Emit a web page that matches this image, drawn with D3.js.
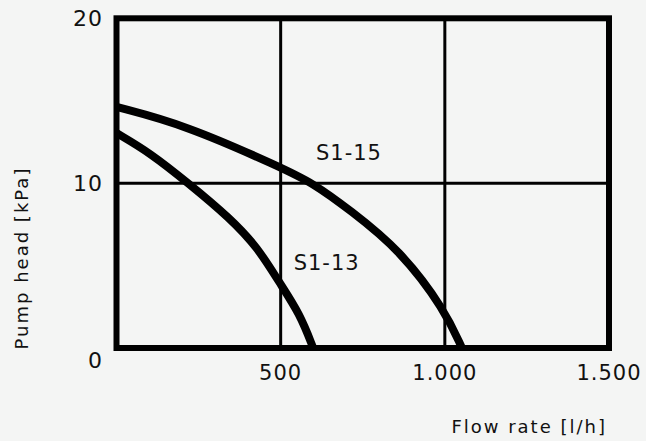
<!DOCTYPE html>
<html>
  <head>
    <meta charset="utf-8" />
    <script src="https://cdn.jsdelivr.net/npm/d3@7"></script>
    <style>
      body { margin: 0; background: #f4f5f4; }
      text { font-family: "DejaVu Sans", sans-serif; fill: #111; }
      .frame { stroke: #000; stroke-width: 6; fill: none; }
      .grid { stroke: #000; stroke-width: 3; }
      .curve { stroke: #000; stroke-width: 8; fill: none; }
    </style>
  </head>
  <body>
    <svg width="646" height="441"></svg>

    <script type="text/javascript">

    // values
    var xTicks = [500, 1000, 1500];
    var xTickLabels = ["500", "1.000", "1.500"];
    var yTicks = [0, 10, 20];
    var yTickLabels = ["0", "10", "20"];

    var s115Flow = [0, 209, 498, 598, 711, 864, 1000, 1052];
    var s115Head = [14.62, 13.53, 10.98, 10.01, 8.37, 5.94, 2.31, 0];

    var s113Flow = [0, 103, 218, 346, 431, 495, 559, 599];
    var s113Head = [13.04, 11.83, 10.01, 7.88, 6.07, 4.0, 2.06, 0];

    var seriesNames = ["S1-15", "S1-13"];
    var labelFlow = [708, 640];
    var labelHead = [11.86, 5.2];

    var svg = d3.select("svg");
    svg.append("rect").attr("width", 646).attr("height", 441).attr("fill", "#f4f5f4");

    var x = d3.scaleLinear().domain([0, 1500]).range([116.5, 609]);
    var y = d3.scaleLinear().domain([0, 20]).range([348, 18.3]);

    // grid lines
    svg.selectAll(".gx").data(xTicks.slice(0, 2)).enter().append("line")
      .attr("class", "grid")
      .attr("x1", function(d) { return x(d); }).attr("x2", function(d) { return x(d); })
      .attr("y1", y(0)).attr("y2", y(20));
    svg.append("line").attr("class", "grid")
      .attr("x1", x(0)).attr("x2", x(1500))
      .attr("y1", y(10)).attr("y2", y(10));

    // curves
    var line = d3.line()
      .x(function(d) { return x(d[0]); })
      .y(function(d) { return y(d[1]); })
      .curve(d3.curveBasis);

    var curves = [d3.zip(s115Flow, s115Head), d3.zip(s113Flow, s113Head)];
    svg.selectAll(".curve").data(curves).enter().append("path")
      .attr("class", "curve")
      .attr("d", line);

    // frame
    svg.append("rect").attr("class", "frame")
      .attr("x", x(0)).attr("y", y(20))
      .attr("width", x(1500) - x(0)).attr("height", y(0) - y(20));

    // series labels
    svg.selectAll(".lbl").data(seriesNames).enter().append("text")
      .attr("x", function(d, i) { return x(labelFlow[i]); })
      .attr("y", function(d, i) { return y(labelHead[i]); })
      .attr("dy", "0.36em")
      .attr("text-anchor", "middle")
      .style("font-size", "21px")
      .style("letter-spacing", "1px")
      .text(function(d) { return d; });

    // tick labels
    svg.selectAll(".xt").data(xTicks).enter().append("text")
      .attr("x", function(d) { return x(d); })
      .attr("y", 380)
      .attr("text-anchor", "middle")
      .style("font-size", "21px")
      .style("letter-spacing", "1px")
      .text(function(d, i) { return xTickLabels[i]; });

    svg.selectAll(".yt").data(yTicks).enter().append("text")
      .attr("x", 103)
      .attr("y", function(d) { return d === 0 ? y(d) + 12 : y(d); })
      .attr("dy", "0.36em")
      .attr("text-anchor", "end")
      .style("font-size", "22px")
      .style("letter-spacing", "1px")
      .text(function(d, i) { return yTickLabels[i]; });

    // axis titles
    svg.append("text")
      .attr("x", 607).attr("y", 433)
      .attr("text-anchor", "end")
      .style("font-size", "18px")
      .style("letter-spacing", "2px")
      .text("Flow rate [l/h]");

    svg.append("text")
      .attr("transform", "translate(28,258) rotate(-90)")
      .attr("text-anchor", "middle")
      .style("font-size", "18px")
      .style("letter-spacing", "2px")
      .text("Pump head [kPa]");

    </script>
  </body>
</html>
